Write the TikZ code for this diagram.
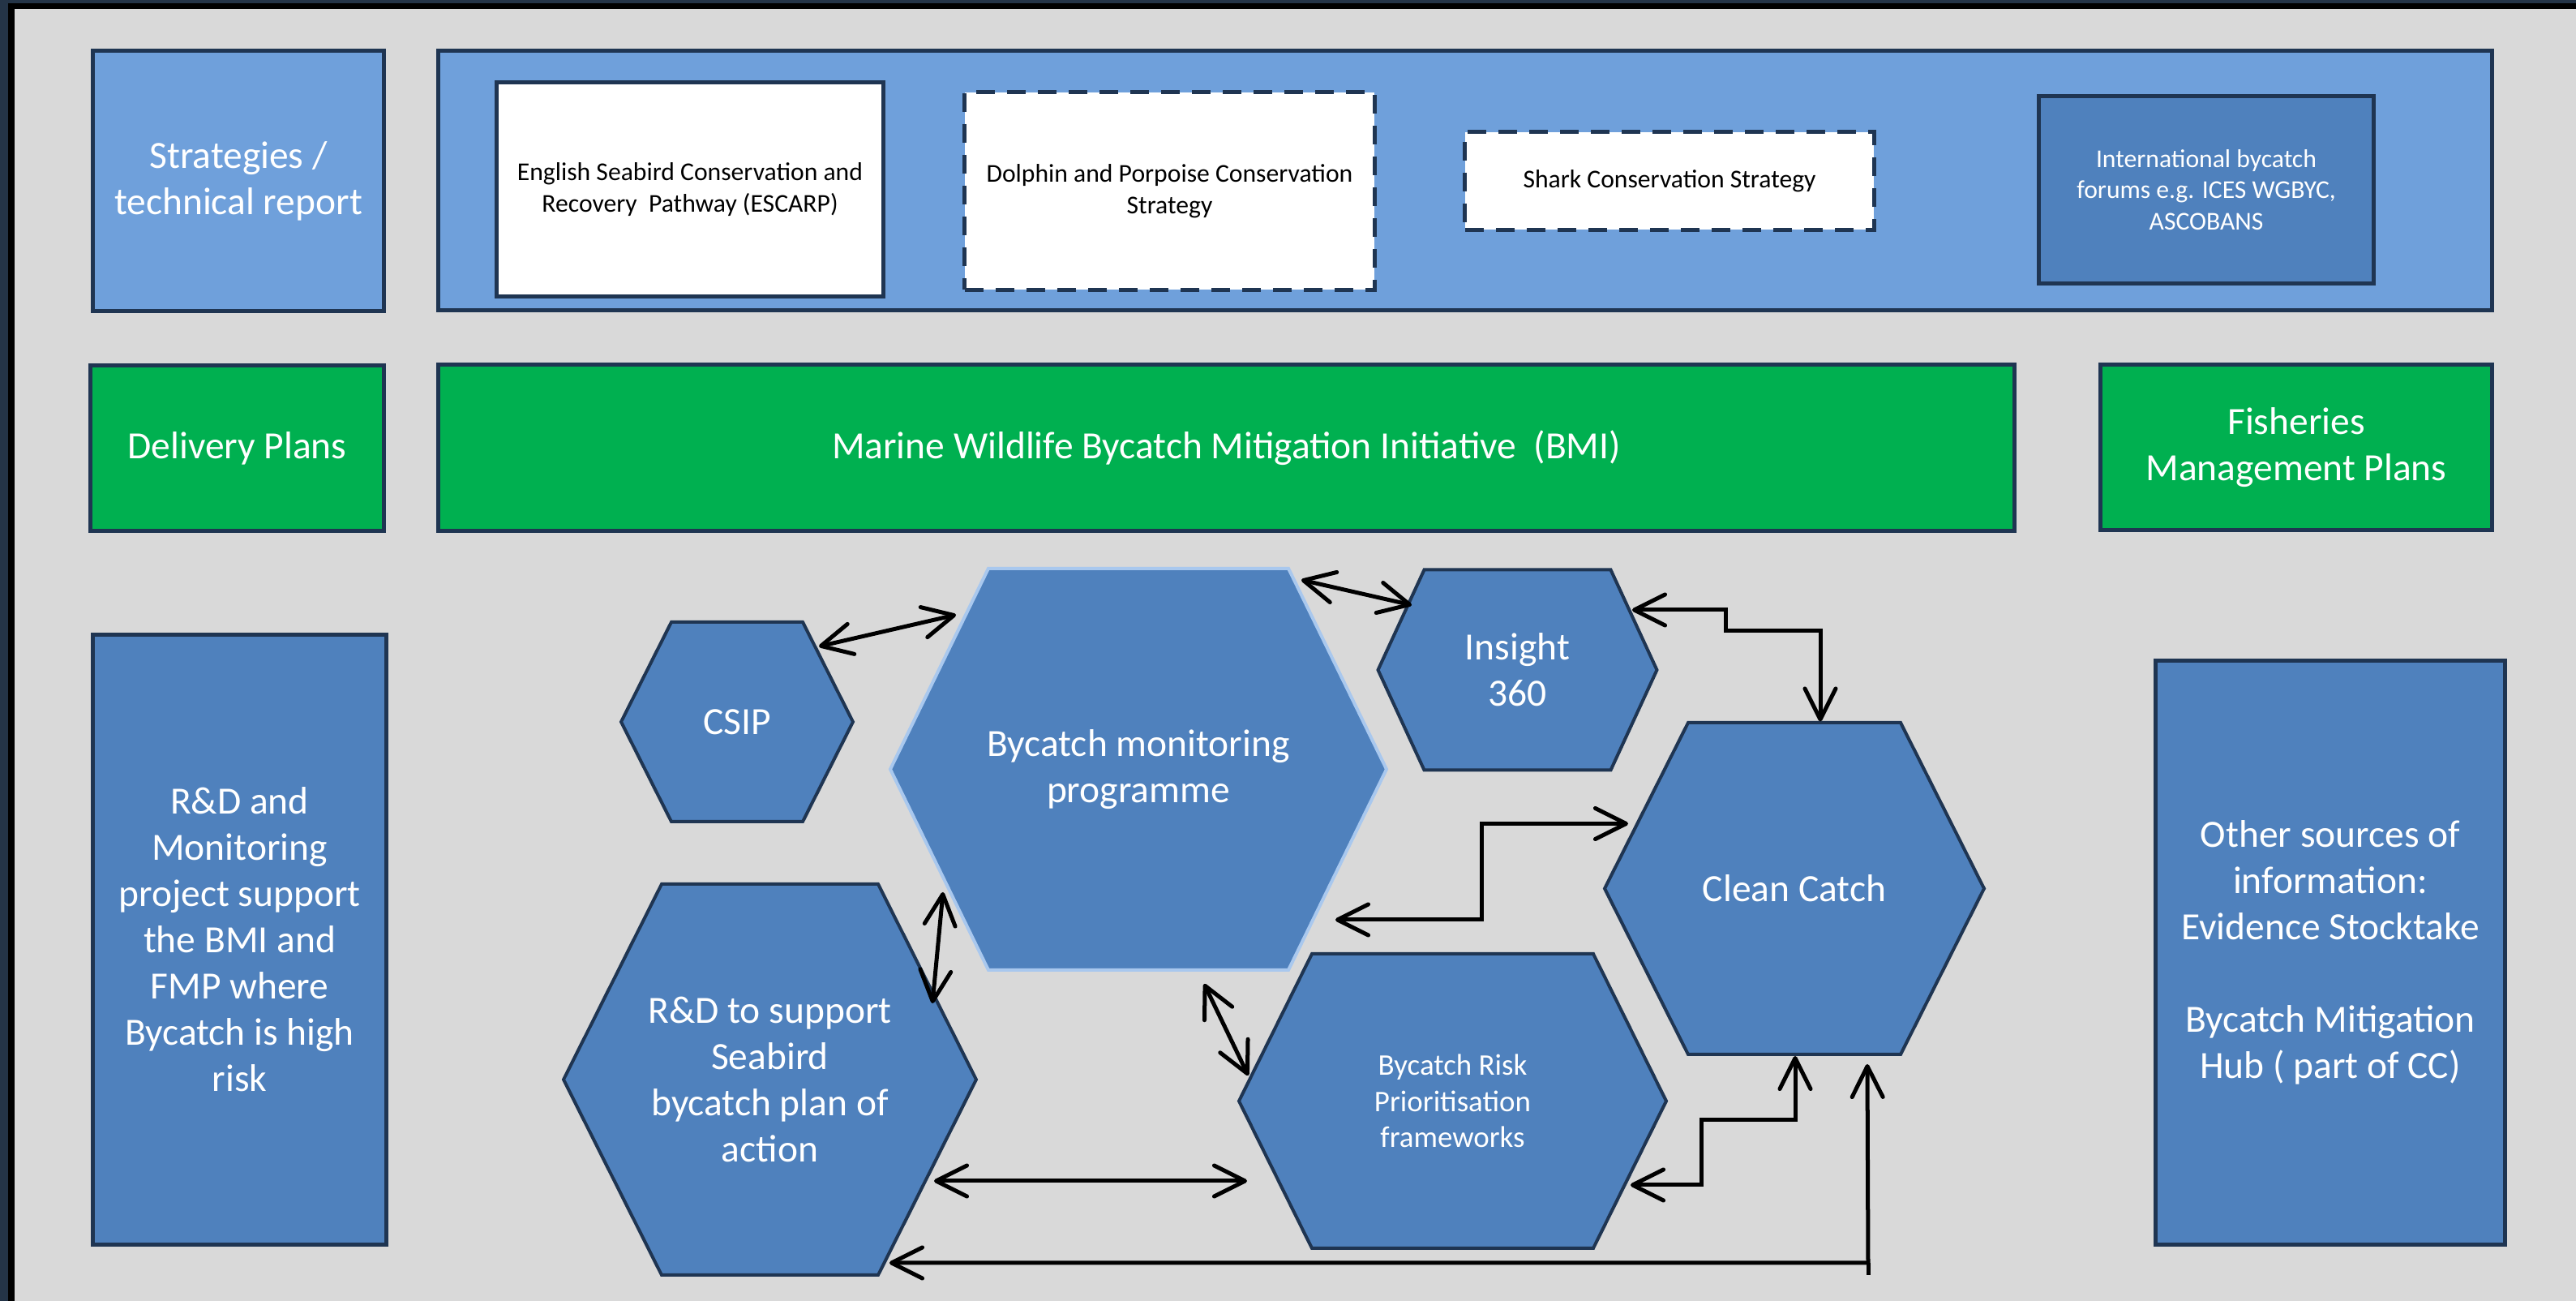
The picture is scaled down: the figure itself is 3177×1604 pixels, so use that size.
\documentclass[tikz,border=0pt]{standalone}
\usepackage{fontspec}
\setmainfont{Carlito}
\usetikzlibrary{arrows.meta,calc}
\definecolor{bgray}{HTML}{D9D9D9}
\definecolor{navy}{HTML}{1F3552}
\definecolor{framenavy}{HTML}{243447}
\definecolor{lightblue}{HTML}{6FA0DB}
\definecolor{midblue}{HTML}{4F81BD}
\definecolor{bmigreen}{HTML}{00B050}
\definecolor{paleedge}{HTML}{A9C8EE}
\tikzset{barb/.tip={Straight Barb[length=0.38cm,width=0.38cm,round]}}
\newcommand\hexshape[6]{\filldraw[#1] (#2-#4,#3) -- (#2-#4+#6,#3-#5) -- (#2+#4-#6,#3-#5) -- (#2+#4,#3) -- (#2+#4-#6,#3+#5) -- (#2-#4+#6,#3+#5) -- cycle;}
\begin{document}
\begin{tikzpicture}[x=0.01cm,y=-0.01cm,
  box/.style={draw=navy, line width=0.05cm, inner sep=0pt, align=center},
  bigtxt/.style={font=\fontsize{13.5}{16.2}\selectfont, text=white},
  smalltxt/.style={font=\fontsize{9}{11}\selectfont},
  dashedbox/.style={dash pattern=on 0.23cm off 0.15cm},
  hexpath/.style={fill=midblue, draw=navy, line width=0.04cm, line join=miter},
  hextxt/.style={align=center, inner sep=0pt, text=white, font=\fontsize{13.5}{16.2}\selectfont},
  arr/.style={line width=0.05cm, draw=black, barb-barb},
  plainline/.style={line width=0.05cm, draw=black}
]
\fill[bgray] (0,0) rectangle (3177,1604);
\useasboundingbox (0,0) rectangle (3177,1604);
% frame (top and left)
\fill[framenavy] (0,0) rectangle (3177,4);
\fill[framenavy] (0,0) rectangle (10,1604);
\fill[black] (10,4) rectangle (3177,11);
\fill[black] (10,4) rectangle (18,1604);

% row 1
\node[box, fill=lightblue, bigtxt, minimum width=3.58cm, minimum height=3.2cm] (strat) at (294,223) {Strategies /\\technical report};
\node[box, fill=lightblue, minimum width=25.32cm, minimum height=3.19cm] (topbox) at (1807,222.5) {};
\node[box, fill=white, smalltxt, minimum width=4.76cm, minimum height=2.63cm] (escarp) at (851,233.5) {English Seabird Conservation and\\Recovery~ Pathway (ESCARP)};
\node[box, dashedbox, fill=white, smalltxt, minimum width=5.05cm, minimum height=2.43cm] (dolphin) at (1442.5,235.5) {Dolphin and Porpoise Conservation\\Strategy};
\node[box, dashedbox, fill=white, smalltxt, minimum width=5.04cm, minimum height=1.2cm] (shark) at (2059,223) {Shark Conservation Strategy};
\node[box, fill=midblue, smalltxt, text=white, minimum width=4.12cm, minimum height=2.3cm] (intl) at (2721,234) {International bycatch\\forums e.g. ICES WGBYC,\\ASCOBANS};

% row 2
\node[box, fill=bmigreen, bigtxt, minimum width=3.61cm, minimum height=2.03cm] (deliv) at (292.5,552.5) {Delivery Plans};
\node[box, fill=bmigreen, bigtxt, minimum width=19.43cm, minimum height=2.04cm] (bmi) at (1512.5,552) {Marine Wildlife Bycatch Mitigation Initiative~ (BMI)};
\node[box, fill=bmigreen, bigtxt, minimum width=4.82cm, minimum height=2.03cm] (fmp) at (2832,551.5) {Fisheries\\Management Plans};

% row 3 side boxes
\node[box, fill=midblue, bigtxt, minimum width=3.61cm, minimum height=7.51cm] (rdm) at (295.5,1158.5) {R\&D and\\Monitoring\\project support\\the BMI and\\FMP where\\Bycatch is high\\risk};
\node[box, fill=midblue, bigtxt, minimum width=4.3cm, minimum height=7.19cm] (other) at (2874,1174.5) {Other sources of\\information:\\Evidence Stocktake\\[16.2pt]Bycatch Mitigation\\Hub ( part of CC)};

% hexagons
\hexshape{hexpath}{909}{890}{143}{123}{62}
\node[hextxt] (csip) at (909,890) {CSIP};
\hexshape{hexpath, draw=paleedge}{1404}{948.4}{306}{247.6}{121}
\node[hextxt] (bmp) at (1404,948.4) {Bycatch monitoring\\programme};
\hexshape{hexpath}{1871.5}{826}{172}{123.5}{57}
\node[hextxt] (ins) at (1871.5,826) {Insight\\360};
\hexshape{hexpath}{2213}{1095.5}{234}{204.5}{103}
\node[hextxt] (cc) at (2213,1095.5) {Clean Catch};
\hexshape{hexpath}{949.5}{1331}{254.5}{241}{121}
\node[hextxt] (rds) at (949.5,1331) {R\&D to support\\Seabird\\bycatch plan of\\action};
\hexshape{hexpath}{1791.5}{1357.5}{263.5}{181.5}{90}
\node[hextxt, font=\fontsize{10.5}{12.7}\selectfont] (risk) at (1791.5,1357.5) {Bycatch Risk\\Prioritisation\\frameworks};

% connectors
\draw[arr] ($(csip)+(101,-93)$) -- ($(bmp)+(-225,-190.4)$);
\draw[arr] ($(bmp)+(201,-233.4)$) -- ($(ins)+(-130.5,-80)$);
\draw[arr] ($(ins)+(141.5,-74)$) -- ++(115,0) -- ++(0,26) -| ($(cc)+(32,-206)$);
\draw[arr] ($(bmp)+(243,185.6)$) -- ++(180,0) |- ($(cc)+(-205,-80)$);
\draw[arr] ($(bmp)+(-241,151.6)$) -- ($(rds)+(200.5,-94)$);
\draw[arr] ($(bmp)+(81,264.6)$) -- ($(risk)+(-252,-31.5)$);
\draw[arr] ($(rds)+(202.5,125)$) -- ($(risk)+(-253.5,98.5)$);
\draw[arr] ($(risk)+(219.5,103.5)$) -- ++(87,0) -- ++(0,-80) -| ($(cc)+(1,206.5)$);
\coordinate (j) at ($(cc)+(91,461.5)$);
\draw[arr] ($(rds)+(147.5,226)$) -- (j) -- ($(cc)+(90,216.5)$);
\draw[plainline] (j) -- ++(0,15);
\end{tikzpicture}
\end{document}
